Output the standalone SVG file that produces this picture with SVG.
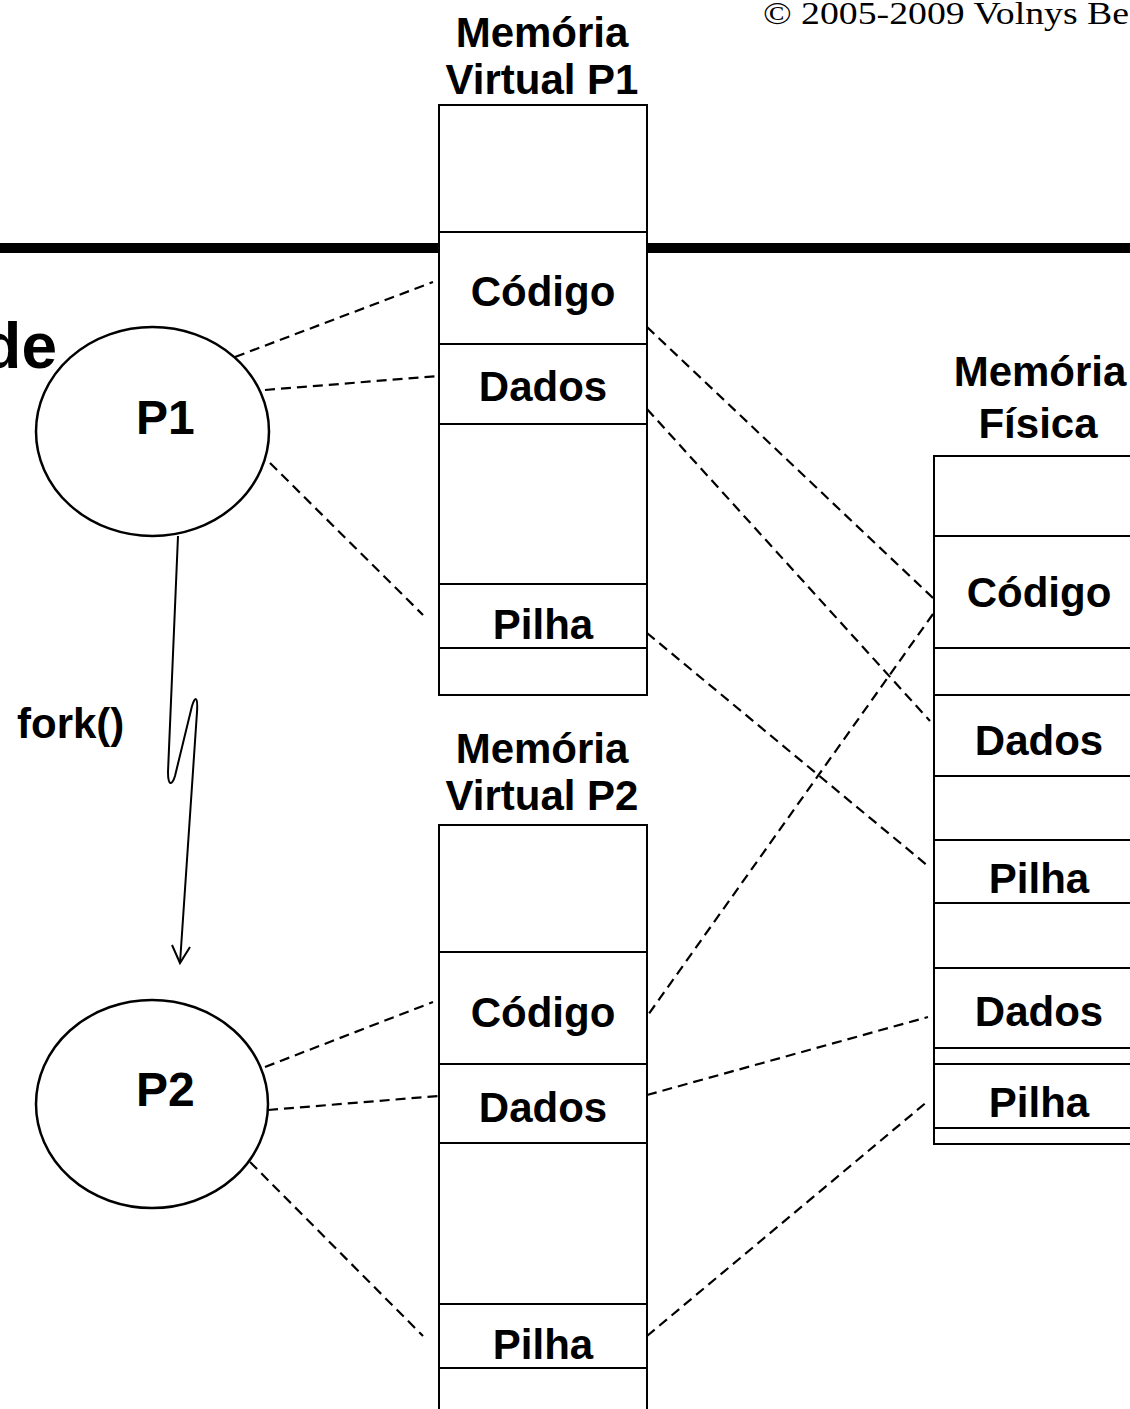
<svg xmlns="http://www.w3.org/2000/svg" width="1130" height="1409" viewBox="0 0 1130 1409">
<style>
.box{fill:#fff;stroke:#000;stroke-width:2}
.sep{stroke:#000;stroke-width:2}
.lbl{font-family:"Liberation Sans",Arial,sans-serif;font-weight:bold;font-size:42px;text-anchor:middle;fill:#000}
.ttl{font-family:"Liberation Sans",Arial,sans-serif;font-weight:bold;font-size:42px;text-anchor:middle;fill:#000}
.proc{fill:#fff;stroke:#000;stroke-width:2.5}
.dash{stroke:#000;stroke-width:2.2;stroke-dasharray:10 6;fill:none}
</style>
<rect width="1130" height="1409" fill="#fff"/>
<text transform="translate(763,24) scale(1.18,1)" font-family="'Liberation Serif','Times New Roman',serif" font-size="32" fill="#000">© 2005-2009 Volnys Be</text>
<text x="57" y="368" font-family="'Liberation Sans',Arial,sans-serif" font-weight="bold" font-size="64" text-anchor="end" fill="#000">de</text>
<line x1="0" y1="248" x2="1130" y2="248" stroke="#000" stroke-width="10"/>

<g id="vm-p1">
<text class="ttl" x="542" y="47">Memória</text>
<text class="ttl" x="542" y="94">Virtual P1</text>
<rect class="box" x="439" y="105" width="208" height="590"/>
<line class="sep" x1="439" y1="232" x2="647" y2="232"/>
<line class="sep" x1="439" y1="344" x2="647" y2="344"/>
<line class="sep" x1="439" y1="424" x2="647" y2="424"/>
<line class="sep" x1="439" y1="584" x2="647" y2="584"/>
<line class="sep" x1="439" y1="648" x2="647" y2="648"/>
<text class="lbl" x="543" y="306">Código</text>
<text class="lbl" x="543" y="401">Dados</text>
<text class="lbl" x="543" y="639">Pilha</text>
</g>

<g id="vm-p2">
<text class="ttl" x="542" y="763">Memória</text>
<text class="ttl" x="542" y="810">Virtual P2</text>
<rect class="box" x="439" y="825" width="208" height="600"/>
<line class="sep" x1="439" y1="952" x2="647" y2="952"/>
<line class="sep" x1="439" y1="1064" x2="647" y2="1064"/>
<line class="sep" x1="439" y1="1143" x2="647" y2="1143"/>
<line class="sep" x1="439" y1="1304" x2="647" y2="1304"/>
<line class="sep" x1="439" y1="1368" x2="647" y2="1368"/>
<text class="lbl" x="543" y="1027">Código</text>
<text class="lbl" x="543" y="1122">Dados</text>
<text class="lbl" x="543" y="1359">Pilha</text>
</g>

<g id="phys">
<text class="ttl" x="1040" y="386">Memória</text>
<text class="ttl" x="1038" y="438">Física</text>
<rect class="box" x="934" y="456" width="210" height="688"/>
<line class="sep" x1="934" y1="536" x2="1144" y2="536"/>
<line class="sep" x1="934" y1="648" x2="1144" y2="648"/>
<line class="sep" x1="934" y1="695" x2="1144" y2="695"/>
<line class="sep" x1="934" y1="776" x2="1144" y2="776"/>
<line class="sep" x1="934" y1="840" x2="1144" y2="840"/>
<line class="sep" x1="934" y1="903" x2="1144" y2="903"/>
<line class="sep" x1="934" y1="968" x2="1144" y2="968"/>
<line class="sep" x1="934" y1="1048" x2="1144" y2="1048"/>
<line class="sep" x1="934" y1="1064" x2="1144" y2="1064"/>
<line class="sep" x1="934" y1="1128" x2="1144" y2="1128"/>
<text class="lbl" x="1039" y="607">Código</text>
<text class="lbl" x="1039" y="755">Dados</text>
<text class="lbl" x="1039" y="893">Pilha</text>
<text class="lbl" x="1039" y="1026">Dados</text>
<text class="lbl" x="1039" y="1117">Pilha</text>
</g>

<g id="p1">
<ellipse class="proc" cx="152.5" cy="431.5" rx="116.5" ry="104.5"/>
<text x="136" y="434" font-family="'Liberation Sans',Arial,sans-serif" font-weight="bold" font-size="48" fill="#000">P1</text>
</g>

<g id="p2">
<ellipse class="proc" cx="152" cy="1104" rx="116" ry="104"/>
<text x="136" y="1106" font-family="'Liberation Sans',Arial,sans-serif" font-weight="bold" font-size="48" fill="#000">P2</text>
</g>

<g id="connectors">
<path d="M178,536 L168,772 C168,786 172,786 175,776 L192,706 C195,696 198,696 197,712 L180,963" fill="none" stroke="#000" stroke-width="2"/>
<path d="M172,945 L180,963 L190,947" fill="none" stroke="#000" stroke-width="2"/>
<text x="17" y="738" font-family="'Liberation Sans',Arial,sans-serif" font-weight="bold" font-size="42" fill="#000">fork()</text>
<line class="dash" x1="235" y1="357" x2="433" y2="282"/>
<line class="dash" x1="265" y1="390" x2="438" y2="376"/>
<line class="dash" x1="270" y1="463" x2="423" y2="615"/>
<line class="dash" x1="647" y1="327" x2="933" y2="598"/>
<line class="dash" x1="647" y1="409" x2="930" y2="721"/>
<line class="dash" x1="647" y1="633" x2="928" y2="866"/>
<line class="dash" x1="933" y1="614" x2="648" y2="1015"/>
<line class="dash" x1="265" y1="1067" x2="433" y2="1002"/>
<line class="dash" x1="268" y1="1110" x2="438" y2="1096"/>
<line class="dash" x1="250" y1="1162" x2="423" y2="1336"/>
<line class="dash" x1="647" y1="1095" x2="928" y2="1017"/>
<line class="dash" x1="647" y1="1336" x2="928" y2="1101"/>
</g>
</svg>
